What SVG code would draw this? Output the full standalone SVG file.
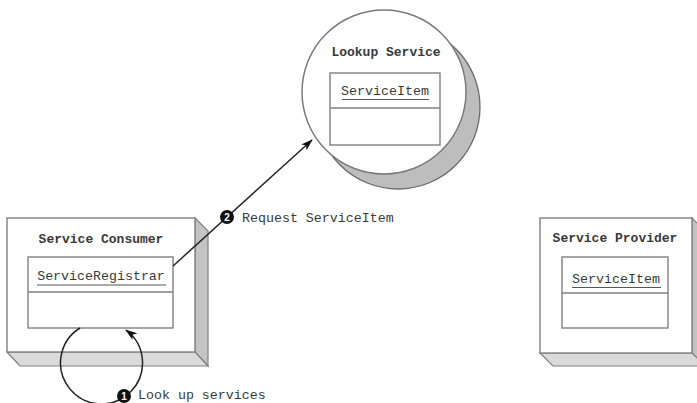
<svg xmlns="http://www.w3.org/2000/svg" width="697" height="403" viewBox="0 0 697 403">
<defs>
<style>
.face{fill:#fff;stroke:#808080;stroke-width:1.4}
.side{fill:#c4c4c4;stroke:#808080;stroke-width:1.2}
.bot{fill:#dadada;stroke:#808080;stroke-width:1.2}
.inner{fill:#fff;stroke:#808080;stroke-width:1.4}
.t{font-family:"Liberation Mono","DejaVu Sans Mono",monospace;font-size:13px;font-weight:bold;fill:#3a3a3a}
.tn{font-family:"Liberation Mono","DejaVu Sans Mono",monospace;font-size:13.3px;fill:#3a3a3a}
.ul{stroke:#555;stroke-width:1.2}
.conn{fill:none;stroke:#222;stroke-width:1.5}
.badge{fill:#111}
.bt{font-family:"Liberation Sans",Arial,sans-serif;font-size:10px;font-weight:bold;fill:#fff}
</style>
<marker id="ah" viewBox="0 0 12 8" refX="11" refY="4" markerWidth="12" markerHeight="8" markerUnits="userSpaceOnUse" orient="auto">
<path d="M0,0 L12,4 L0,8 L3,4 Z" fill="#111"/>
</marker>
</defs>
<rect width="697" height="403" fill="#fff"/>

<g id="lookup-service">
<circle cx="398" cy="107" r="82" fill="#bdbdbd" stroke="#6a6a6a" stroke-width="1.3"/>
<circle cx="384" cy="92" r="82" fill="#fff" stroke="#7a7a7a" stroke-width="1.5"/>
<text class="t" x="386" y="56" text-anchor="middle">Lookup Service</text>
<rect class="inner" x="330" y="73" width="110" height="72"/>
<line class="inner" x1="330" y1="108" x2="440" y2="108"/>
<text class="tn" x="385" y="95" text-anchor="middle">ServiceItem</text>
<line class="ul" x1="342" y1="99.5" x2="429" y2="99.5"/>
</g>

<g id="service-consumer">
<polygon class="side" points="195,218 208,231 208,366 195,352"/>
<polygon class="bot" points="7,352 20,366 208,366 195,352"/>
<rect class="face" x="7" y="218" width="188" height="134"/>
<text class="t" x="101" y="243" text-anchor="middle">Service Consumer</text>
<rect class="inner" x="28" y="257" width="145" height="71"/>
<line class="inner" x1="28" y1="292" x2="173" y2="292"/>
<text class="tn" x="101" y="280" text-anchor="middle">ServiceRegistrar</text>
<line class="ul" x1="37" y1="285" x2="166" y2="285"/>
</g>

<g id="service-provider">
<polygon class="side" points="692,218 705,231 705,366 692,353"/>
<polygon class="bot" points="540,353 553,366 705,366 692,353"/>
<rect class="face" x="540" y="218" width="152" height="135"/>
<text class="t" x="615" y="242" text-anchor="middle">Service Provider</text>
<rect class="inner" x="562" y="257" width="106" height="71"/>
<line class="inner" x1="562" y1="293" x2="668" y2="293"/>
<text class="tn" x="616" y="283" text-anchor="middle">ServiceItem</text>
<line class="ul" x1="572" y1="287.5" x2="661" y2="287.5"/>
</g>

<g id="connectors">
<line class="conn" x1="173" y1="266" x2="312" y2="140" marker-end="url(#ah)"/>
<circle class="badge" cx="227" cy="217" r="7"/>
<text class="bt" x="227" y="220.5" text-anchor="middle">2</text>
<text class="tn" x="242" y="222">Request ServiceItem</text>

<path class="conn" d="M80,328 A41,41 0 1 0 126,330" marker-end="url(#ah)"/>
<circle class="badge" cx="124" cy="396" r="7"/>
<text class="bt" x="124" y="399.5" text-anchor="middle">1</text>
<text class="tn" x="138" y="399">Look up services</text>
</g>
</svg>
